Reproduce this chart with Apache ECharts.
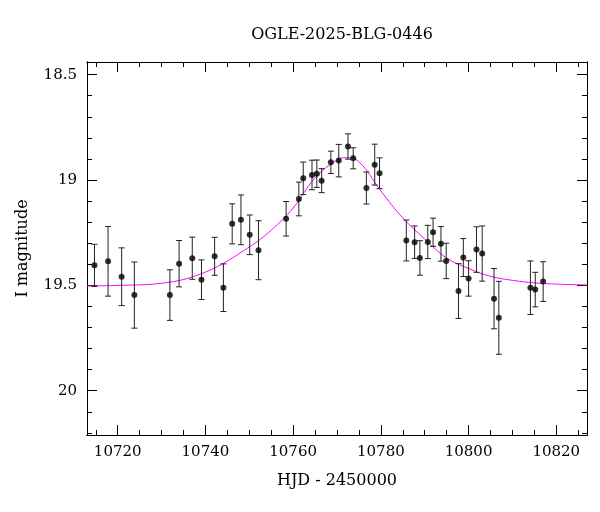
<!DOCTYPE html>
<html lang="en">
<head>
    <meta charset="UTF-8">
    <script src="https://cdn.jsdelivr.net/npm/echarts@6/dist/echarts.min.js"></script>
</head>
<body style="margin:0">
<div id="main" style="width: 600px;height:512px;"></div>
<script type="text/javascript">
    // photometry: HJD-2450000, I mag, error
    var obsT = [10714.7, 10717.8, 10720.9, 10723.8, 10731.9, 10734.0, 10737.0, 10739.1, 10742.1, 10744.1,
        10746.1, 10748.1, 10750.1, 10752.1, 10758.4, 10761.3, 10762.3, 10764.3, 10765.4, 10766.5,
        10768.6, 10770.4, 10772.5, 10773.7, 10776.7, 10778.6, 10779.7, 10785.8, 10787.7, 10788.9,
        10790.7, 10791.9, 10793.7, 10794.9, 10797.7, 10798.8, 10800.0, 10801.8, 10803.1, 10805.8,
        10806.9, 10814.1, 10815.2, 10817.0];
    var obsMag = [19.405, 19.386, 19.459, 19.546, 19.546, 19.397, 19.371, 19.473, 19.362, 19.511,
        19.208, 19.189, 19.260, 19.333, 19.184, 19.090, 18.992, 18.976, 18.970, 19.003,
        18.916, 18.908, 18.841, 18.897, 19.038, 18.927, 18.968, 19.287, 19.295, 19.370,
        19.294, 19.248, 19.303, 19.384, 19.527, 19.368, 19.467, 19.330, 19.349, 19.563,
        19.654, 19.511, 19.520, 19.482];
    var obsErr = [0.100, 0.165, 0.137, 0.157, 0.120, 0.110, 0.100, 0.094, 0.090, 0.113,
        0.095, 0.118, 0.094, 0.140, 0.082, 0.080, 0.077, 0.070, 0.065, 0.057,
        0.053, 0.077, 0.060, 0.050, 0.076, 0.097, 0.073, 0.097, 0.077, 0.082,
        0.079, 0.067, 0.082, 0.084, 0.130, 0.090, 0.084, 0.108, 0.131, 0.143,
        0.173, 0.127, 0.082, 0.094];
    // model curve
    var modelT = [10713, 10720, 10730, 10740, 10750, 10755, 10760, 10765, 10770, 10772,
        10775, 10780, 10785, 10790, 10795, 10800, 10805, 10810, 10815, 10820, 10827];
    var modelMag = [19.503, 19.500, 19.490, 19.437, 19.318, 19.238, 19.133, 18.990, 18.905, 18.894,
        18.913, 19.052, 19.180, 19.280, 19.370, 19.420, 19.457, 19.476, 19.488, 19.494, 19.498];
    var xMajor = [10720, 10740, 10760, 10780, 10800, 10820];
    var xMinor = [];
    for (var v = 10715; v <= 10825; v += 5) xMinor.push(v);
    var yMajor = [18.5, 19, 19.5, 20];
    var yMinor = [];
    for (var m = 185; m <= 202; m++) yMinor.push(m / 10);

    var font = 'DejaVu Serif';
    var xMin = 10713, xMax = 10827, yMin = 18.44, yMax = 20.21;

    function xAx(pos, ticks, len, labels) {
        return {
            type: 'value', position: pos, min: xMin, max: xMax,
            splitLine: {show: false},
            axisLine: {show: true, onZero: false, lineStyle: {color: '#000', width: 1}},
            axisTick: {show: true, inside: true, length: len, customValues: ticks, lineStyle: {color: '#000'}},
            axisLabel: {show: labels, customValues: ticks, color: '#000', fontFamily: font, fontSize: 15, margin: 10,
                formatter: function (v) { return String(v); }},
            name: labels ? 'HJD - 2450000' : '', nameLocation: 'middle', nameGap: 38,
            nameTextStyle: {color: '#000', fontFamily: font, fontSize: 16}
        };
    }
    function yAx(pos, ticks, len, labels) {
        return {
            type: 'value', position: pos, min: yMin, max: yMax, inverse: true,
            splitLine: {show: false},
            axisLine: {show: true, onZero: false, lineStyle: {color: '#000', width: 1}},
            axisTick: {show: true, inside: true, length: len, customValues: ticks, lineStyle: {color: '#000'}},
            axisLabel: {show: labels, customValues: ticks, color: '#000', fontFamily: font, fontSize: 15, margin: 10,
                formatter: function (v) { return String(+v.toFixed(1)); }},
            name: labels ? 'I magnitude' : '', nameLocation: 'middle', nameGap: 56,
            nameTextStyle: {color: '#000', fontFamily: font, fontSize: 16}
        };
    }

    var pts = obsT.map(function (t, i) { return [t, obsMag[i]]; });
    var bars = obsT.map(function (t, i) { return [t, obsMag[i] - obsErr[i], obsMag[i] + obsErr[i]]; });
    var model = modelT.map(function (t, i) { return [t, modelMag[i]]; });

    var myChart = echarts.init(document.getElementById('main'));
    myChart.setOption({
        animation: false,
        title: {text: 'OGLE-2025-BLG-0446', left: 337, top: 22, textAlign: 'center',
            textStyle: {fontFamily: font, fontSize: 16, fontWeight: 'normal', color: '#000'}},
        grid: {left: 87, right: 13, top: 62, bottom: 77},
        xAxis: [xAx('bottom', xMajor, 10, true), xAx('top', xMajor, 10, false),
            xAx('bottom', xMinor, 5, false), xAx('top', xMinor, 5, false)],
        yAxis: [yAx('left', yMajor, 10, true), yAx('right', yMajor, 10, false),
            yAx('left', yMinor, 5, false), yAx('right', yMinor, 5, false)],
        series: [{
            type: 'line', data: model, smooth: 0.4, showSymbol: false,
            lineStyle: {color: '#ff00ff', width: 1}, z: 1
        }, {
            type: 'custom', data: bars, z: 2,
            renderItem: function (params, api) {
                var top = api.coord([api.value(0), api.value(1)]);
                var bot = api.coord([api.value(0), api.value(2)]);
                var w = 3;
                var st = {stroke: '#222', lineWidth: 1};
                return {type: 'group', children: [
                    {type: 'line', shape: {x1: top[0], y1: top[1], x2: bot[0], y2: bot[1]}, style: st},
                    {type: 'line', shape: {x1: top[0] - w, y1: top[1], x2: top[0] + w, y2: top[1]}, style: st},
                    {type: 'line', shape: {x1: bot[0] - w, y1: bot[1], x2: bot[0] + w, y2: bot[1]}, style: st}
                ]};
            }
        }, {
            type: 'scatter', data: pts, symbolSize: 6, itemStyle: {color: '#000'}, z: 3
        }]
    });
</script>
</body>
</html>
